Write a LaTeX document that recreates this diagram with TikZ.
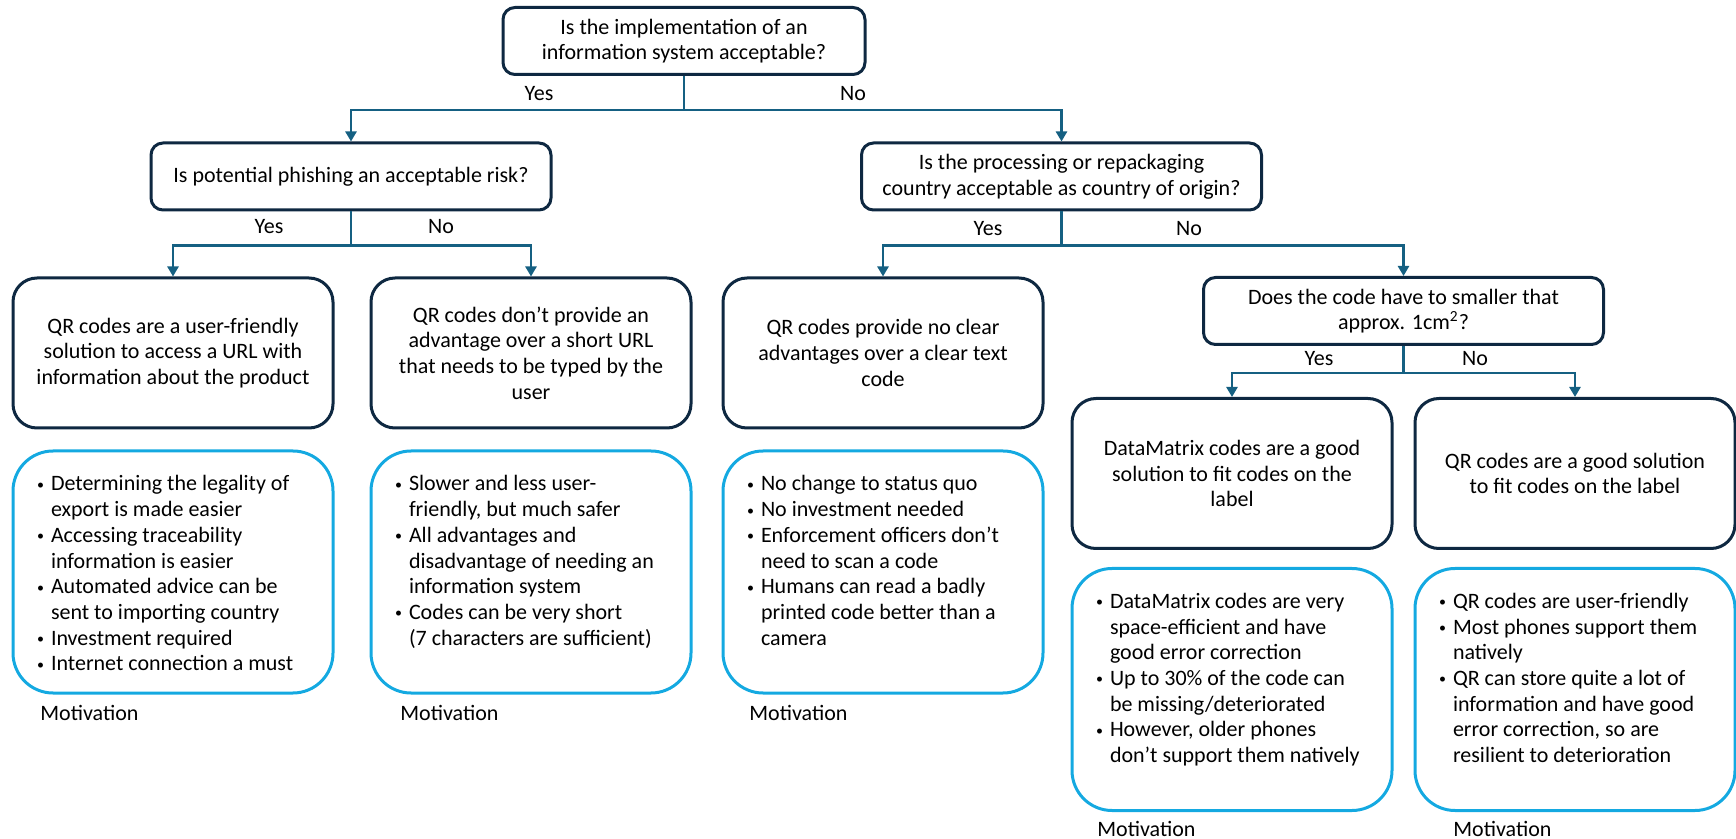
\documentclass[tikz,border=0pt]{standalone}
\usepackage{fontspec}
\setmainfont{Carlito}
\usetikzlibrary{arrows.meta}

\definecolor{qdark}{HTML}{0E2841}
\definecolor{lineblue}{HTML}{156082}
\definecolor{motblue}{HTML}{14A9E1}

\newcommand{\fs}{\fontsize{11}{12.85}\selectfont}
\newcommand{\bul}{\makebox[9pt][l]{\hspace{2pt}\raisebox{0.8pt}{\fontsize{7}{7}\selectfont\textbullet}}}
\newcommand{\motlist}[1]{\parbox[t][99pt][t]{140pt}{\begin{tabular}[t]{@{}l@{}l@{}}#1\end{tabular}}}

\begin{document}
\begin{tikzpicture}[
        x=0.5pt, y=-0.5pt,
        box/.style={draw=qdark, line width=1.5pt, fill=white, align=center, font=\fs, inner sep=2pt},
        question/.style={box, rounded corners=6pt, minimum width=200pt, minimum height=33.5pt},
        answer/.style={box, rounded corners=12pt, minimum width=160pt, minimum height=75pt},
        motiv/.style={draw=motblue, line width=1.5pt, rounded corners=20pt, inner xsep=10pt, inner ysep=11pt, font=\fs},
        tag/.style={font=\fs, inner sep=0pt},
        conn/.style={draw=lineblue, line width=1.2pt, -{Triangle[width=5.5pt,length=5pt]}}
    ]
        \useasboundingbox (0,0) rectangle (1736,839);

        % Questions
        \node[question, minimum width=181pt] (q1) at (684, 41) {Is the implementation of an\\information system acceptable?};
        \node[question] (q2) at (351, 176.5) {Is potential phishing an acceptable risk?};
        \node[question] (q3) at (1061.5, 176.5) {Is the processing or repackaging\\country acceptable as country of origin?};
        \node[question] (q4) at (1403.5, 311) {Does the code have to smaller that\\approx. 1cm\textsuperscript{2}?};

        % Answers
        \node[answer] (a1) at (173, 353) {QR codes are a user-friendly\\solution to access a URL with\\information about the product};
        \node[answer] (a2) at (531, 353) {QR codes don’t provide an\\advantage over a short URL\\that needs to be typed by the\\user};
        \node[answer] (a3) at (883, 353) {QR codes provide no clear\\advantages over a clear text\\code};
        \node[answer] (a4) at (1232, 473.5) {DataMatrix codes are a good\\solution to fit codes on the\\label};
        \node[answer] (a5) at (1575, 473.5) {QR codes are a good solution\\to fit codes on the label};

        % Motivations
        \node[motiv] (m1) at (173, 572) {\motlist{%
            \bul & Determining the legality of\\ & export is made easier\\
            \bul & Accessing traceability\\ & information is easier\\
            \bul & Automated advice can be\\ & sent to importing country\\
            \bul & Investment required\\
            \bul & Internet connection a must}};
        \node[motiv] (m2) at (531, 572) {\motlist{%
            \bul & Slower and less user-\\ & friendly, but much safer\\
            \bul & All advantages and\\ & disadvantage of needing an\\ & information system\\
            \bul & Codes can be very short\\ & (7 characters are sufficient)}};
        \node[motiv] (m3) at (883, 572) {\motlist{%
            \bul & No change to status quo\\
            \bul & No investment needed\\
            \bul & Enforcement officers don’t\\ & need to scan a code\\
            \bul & Humans can read a badly\\ & printed code better than a\\ & camera}};
        \node[motiv] (m4) at (1232, 689.5) {\motlist{%
            \bul & DataMatrix codes are very\\ & space-efficient and have\\ & good error correction\\
            \bul & Up to 30\% of the code can\\ & be missing/deteriorated\\
            \bul & However, older phones\\ & don’t support them natively}};
        \node[motiv] (m5) at (1575, 689.5) {\motlist{%
            \bul & QR codes are user-friendly\\
            \bul & Most phones support them\\ & natively\\
            \bul & QR can store quite a lot of\\ & information and have good\\ & error correction, so are\\ & resilient to deterioration}};

        \node[tag, anchor=west] (l1) at (40, 713) {Motivation};
        \node[tag, anchor=west] (l2) at (400, 713) {Motivation};
        \node[tag, anchor=west] (l3) at (749, 713) {Motivation};
        \node[tag, anchor=west] (l4) at (1097, 829) {Motivation};
        \node[tag, anchor=west] (l5) at (1453, 829) {Motivation};

        % Arrows
        \draw[conn] (q1.south) -- ++(0,34) -| (q2.north);
        \draw[conn] (q1.south) -- ++(0,34) -| (q3.north);
        \draw[conn] (q2.south) -- ++(0,34) -| (a1.north);
        \draw[conn] (q2.south) -- ++(0,34) -| (a2.north);
        \draw[conn] (q3.south) -- ++(0,34) -| (a3.north);
        \draw[conn] (q3.south) -- ++(0,34) -| (q4.north);
        \draw[conn] (q4.south) -- ++(0,27) -| (a4.north);
        \draw[conn] (q4.south) -- ++(0,27) -| (a5.north);

        % Branch labels
        \node[tag] (y1) at (539, 94) {Yes};
        \node[tag] (n1) at (853, 94) {No};
        \node[tag] (y2) at (269, 227) {Yes};
        \node[tag] (n2) at (441, 227) {No};
        \node[tag] (y3) at (988, 229) {Yes};
        \node[tag] (n3) at (1189, 229) {No};
        \node[tag] (y4) at (1319, 359) {Yes};
        \node[tag] (n4) at (1475, 359) {No};
    \end{tikzpicture}
\end{document}
